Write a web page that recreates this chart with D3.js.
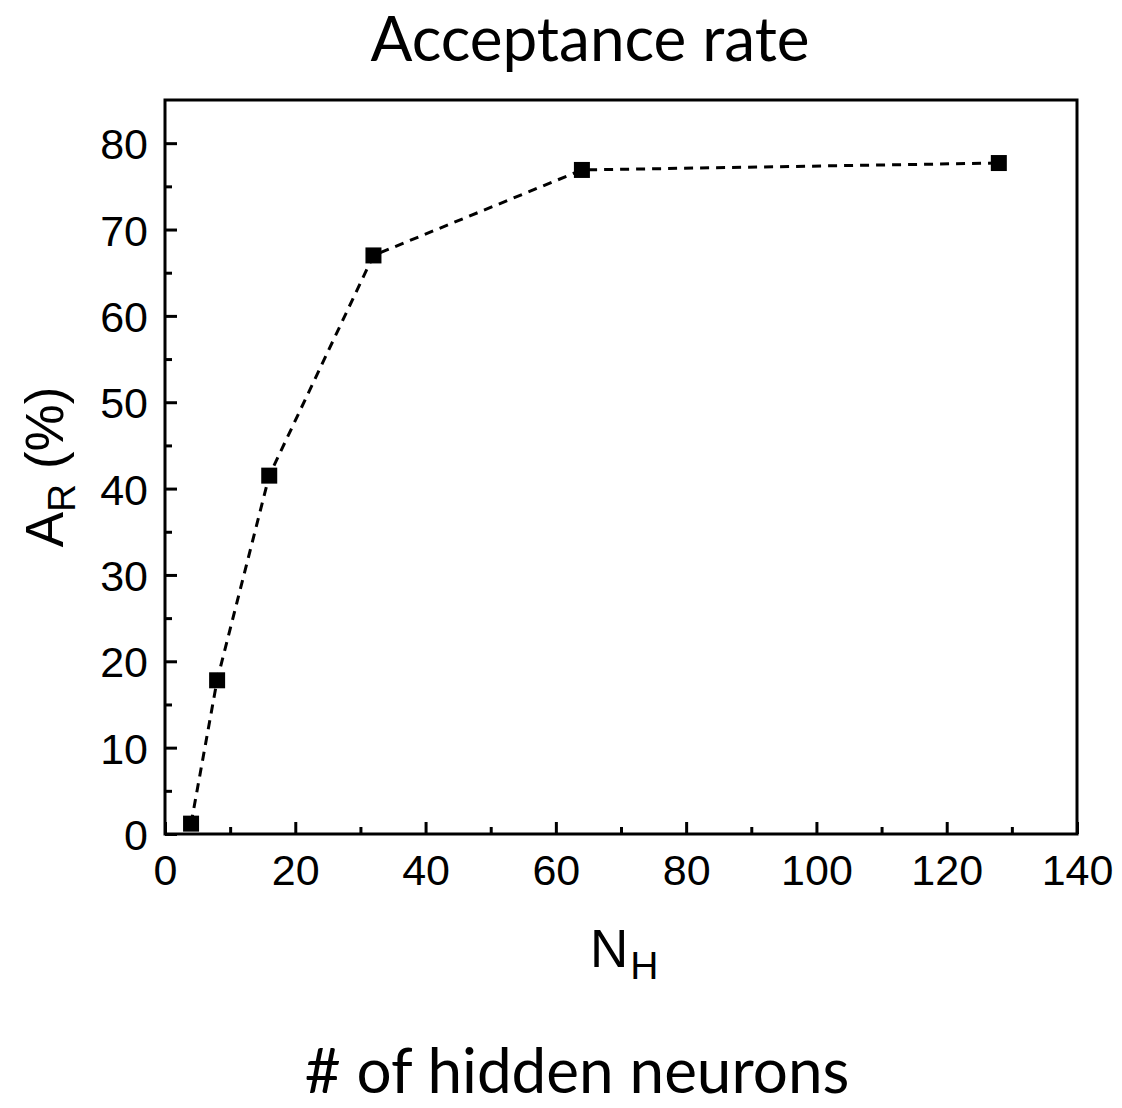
<!DOCTYPE html>
<html>
<head>
<meta charset="utf-8">
<script src="https://cdn.jsdelivr.net/npm/d3@7"></script>
<style>
  html, body { margin: 0; padding: 0; background: #fff; }
  svg { display: block; }
</style>
</head>
<body>
<div id="chart"></div>
<script>
// Acceptance rate vs. number of hidden neurons
const hiddenNeurons = [4, 8, 16, 32, 64, 128];
const acceptanceRate = [1.2, 17.8, 41.5, 67.0, 76.9, 77.7];
const xTicks = [0, 20, 40, 60, 80, 100, 120, 140];
const yTicks = [0, 10, 20, 30, 40, 50, 60, 70, 80];

const W = 1122, H = 1108;
const margin = { left: 165, right: 45, top: 100, bottom: 274 };
const plotW = W - margin.left - margin.right;
const plotH = H - margin.top - margin.bottom;

const svg = d3.select("#chart").append("svg")
  .attr("width", W).attr("height", H);

const x = d3.scaleLinear().domain([0, 140]).range([0, plotW]);
const y = d3.scaleLinear().domain([0, 85]).range([plotH, 0]);

const g = svg.append("g").attr("transform", `translate(${margin.left},${margin.top})`);

const tickFont = "'Liberation Sans', Arial, sans-serif";

// Minor ticks (inward)
const xMinor = d3.range(10, 140, 20);
const yMinor = d3.range(5, 85, 10);

const xAxis = d3.axisBottom(x).tickValues(xTicks).tickSize(-12).tickPadding(20).tickFormat(d3.format("d"));
const yAxis = d3.axisLeft(y).tickValues(yTicks).tickSize(-12).tickPadding(17).tickFormat(d3.format("d"));

const gx = g.append("g").attr("transform", `translate(0,${plotH})`).call(xAxis);
const gy = g.append("g").call(yAxis);

g.append("g").attr("transform", `translate(0,${plotH})`)
  .call(d3.axisBottom(x).tickValues(xMinor).tickSize(-7).tickFormat(""))
  .select(".domain").remove();
g.append("g")
  .call(d3.axisLeft(y).tickValues(yMinor).tickSize(-7).tickFormat(""))
  .select(".domain").remove();

[gx, gy].forEach(a => {
  a.select(".domain").remove();
  a.selectAll("text").attr("font-family", tickFont).attr("font-size", 43).attr("fill", "#000");
});
gy.selectAll("text").attr("dy", "0.36em");
gx.selectAll("text").attr("dy", "0.71em");
g.selectAll(".tick line").attr("stroke", "#000").attr("stroke-width", 3);

// Frame
g.append("rect")
  .attr("x", 0).attr("y", 0).attr("width", plotW).attr("height", plotH)
  .attr("fill", "none").attr("stroke", "#000").attr("stroke-width", 3);

// Dashed connecting line
const line = d3.line().x((d, i) => x(hiddenNeurons[i])).y(d => y(d));
g.append("path")
  .datum(acceptanceRate)
  .attr("d", line)
  .attr("fill", "none")
  .attr("stroke", "#000")
  .attr("stroke-width", 3)
  .attr("stroke-dasharray", "9,7");

// Square markers
const ms = 16;
g.selectAll("rect.pt")
  .data(acceptanceRate)
  .join("rect")
  .attr("class", "pt")
  .attr("x", (d, i) => x(hiddenNeurons[i]) - ms / 2)
  .attr("y", d => y(d) - ms / 2)
  .attr("width", ms).attr("height", ms)
  .attr("fill", "#000");

// Axis titles
const nh = svg.append("text")
  .attr("x", 590).attr("y", 967)
  .attr("font-family", tickFont).attr("font-size", 53).attr("fill", "#000");
nh.append("tspan").text("N");
nh.append("tspan").attr("font-size", 39).attr("dx", 2).attr("dy", 12).text("H");

const ar = svg.append("text")
  .attr("transform", `translate(63,${margin.top + plotH / 2}) rotate(-90)`)
  .attr("text-anchor", "middle")
  .attr("font-family", tickFont).attr("font-size", 53).attr("fill", "#000");
ar.append("tspan").text("A");
ar.append("tspan").attr("font-size", 39).attr("dy", 12).text("R");
ar.append("tspan").attr("dy", -12).text(" (%)");

// Title and bottom caption
const capFont = "Lato, 'Open Sans', sans-serif";
svg.append("text")
  .attr("x", 590).attr("y", 61)
  .attr("text-anchor", "middle")
  .attr("font-family", capFont).attr("font-size", 62).attr("fill", "#000")
  .text("Acceptance rate");

svg.append("text")
  .attr("x", 577).attr("y", 1093)
  .attr("text-anchor", "middle")
  .attr("font-family", capFont).attr("font-size", 62).attr("fill", "#000")
  .text("# of hidden neurons");
</script>
</body>
</html>
